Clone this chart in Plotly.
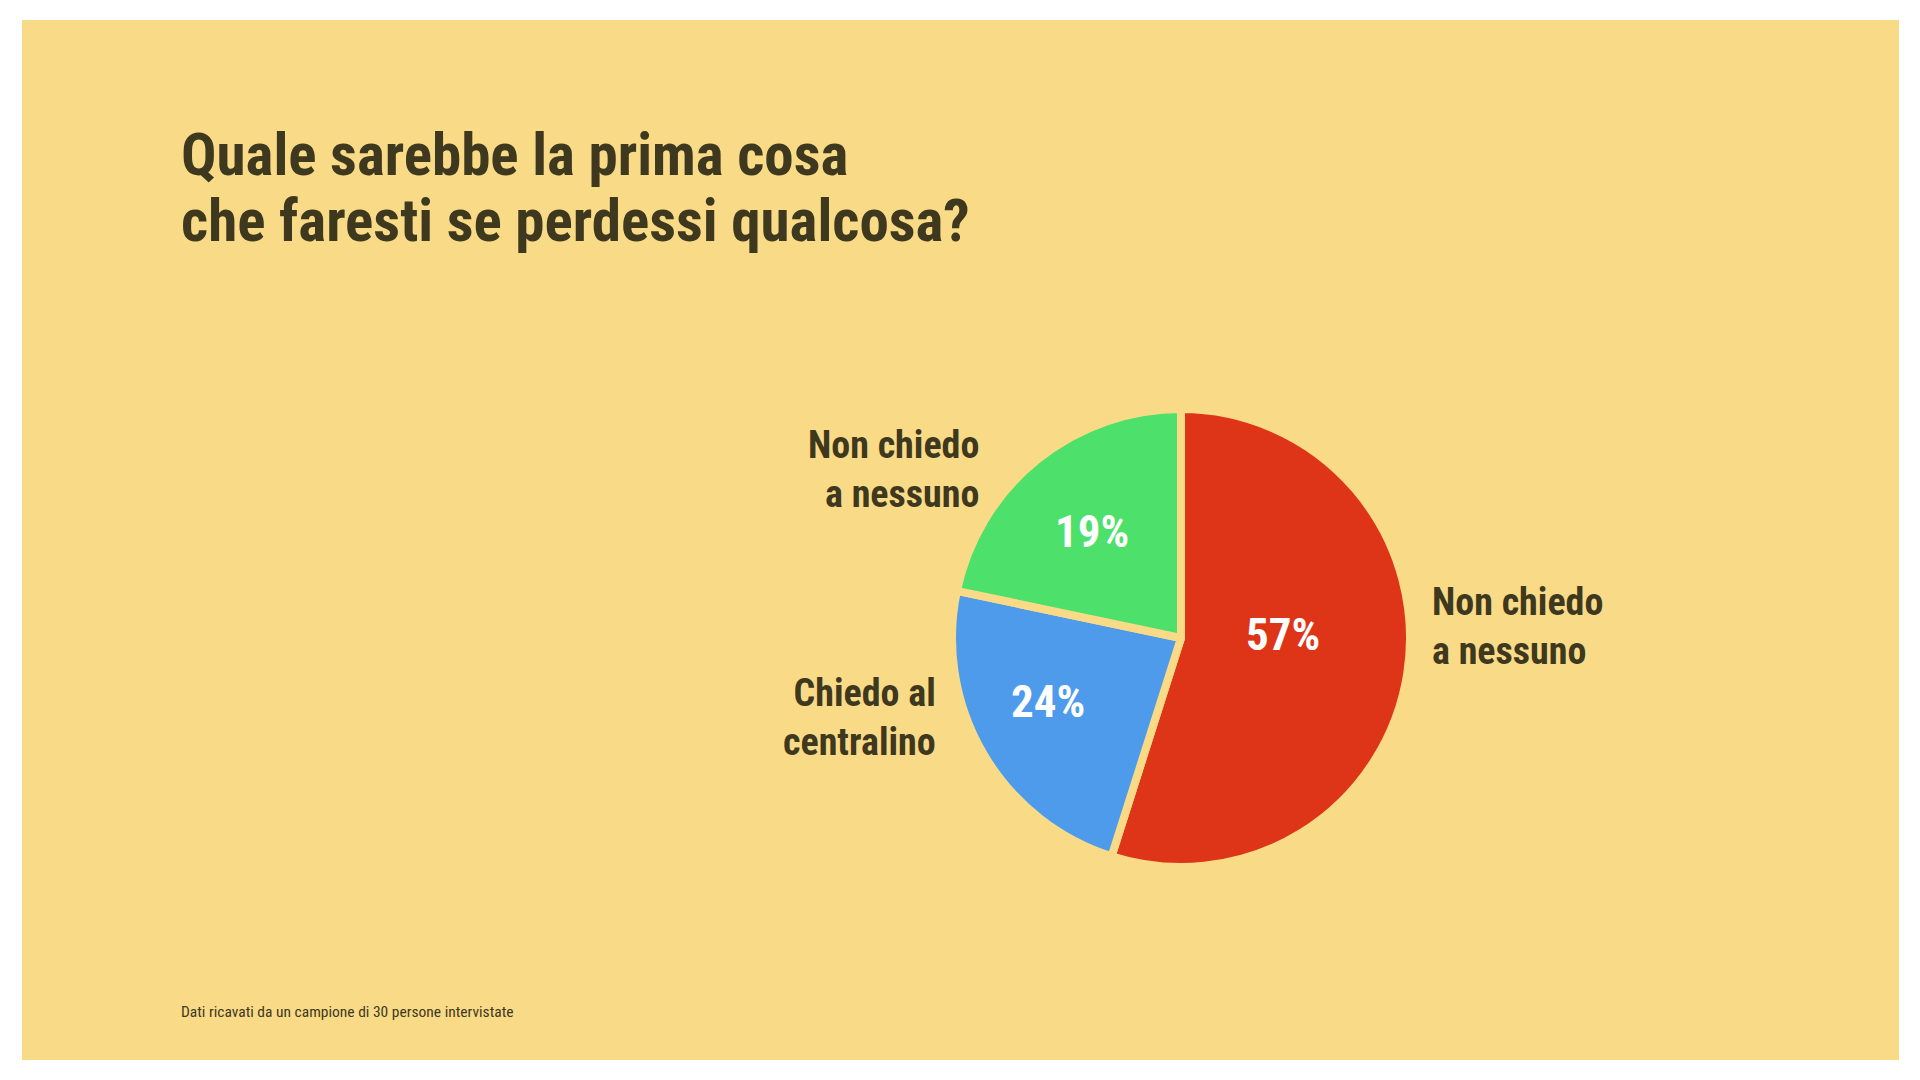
import plotly.graph_objects as go

# ---- data ----
categories = ["Non chiedo a nessuno", "Chiedo al centralino", "Non chiedo a nessuno (2)"]
label_lines = [["Non chiedo", "a nessuno"], ["Chiedo al", "centralino"], ["Non chiedo", "a nessuno"]]
slice_shares = [54.9, 23.4, 21.7]          # slice sizes as drawn
pct_labels = ["57%", "24%", "19%"]          # printed percentages
title_lines = ["Quale sarebbe la prima cosa", "che faresti se perdessi qualcosa?"]
footnote = "Dati ricavati da un campione di 30 persone intervistate"

BG = "#F9DB87"
INK = "#3E381E"
COLORS = ["#DE3417", "#4F9BEB", "#4DE06A"]
FONT = "Roboto Condensed, Liberation Sans Narrow, Arial Narrow, Liberation Sans, sans-serif"

W, H = 1920, 1080
def px(x):
    return x / W
def py(y):
    return 1 - y / H

cx, cy, r = 1181, 638, 229

fig = go.Figure()
fig.add_trace(go.Pie(
    labels=categories,
    values=slice_shares,
    text=pct_labels,
    textinfo="none",
    marker=dict(colors=COLORS, line=dict(color=BG, width=8)),
    sort=False,
    direction="clockwise",
    rotation=0,
    showlegend=False,
    hoverinfo="label+text",
    domain=dict(x=[px(cx - r), px(cx + r)], y=[py(cy + r), py(cy - r)]),
))

annotations = []
# title
for i, line in enumerate(title_lines):
    annotations.append(dict(text=line, x=px(179), y=py([155, 220][i]), xanchor="left", yanchor="middle",
                            font=dict(family=FONT, size=59, color=INK, weight="bold")))
# outside labels (two-line, centred on the pair's middle)
label_pos = [  # (x, anchor, middle y of the two-line block)
    (1430, "left", 626),
    (938, "right", 717),
    (981, "right", 470),
]
for lines, (x, anc, y) in zip(label_lines, label_pos):
    annotations.append(dict(text="<br>".join(lines), x=px(x), y=py(y), xanchor=anc, yanchor="middle",
                            align=anc, font=dict(family=FONT, size=38, color=INK, weight="bold")))
# percentages inside the slices
pct_pos = [(1283, 634), (1048, 701), (1092, 531)]
for t, (x, y) in zip(pct_labels, pct_pos):
    annotations.append(dict(text=t, x=px(x), y=py(y), xanchor="center", yanchor="middle",
                            font=dict(family=FONT, size=45, color="white", weight="bold")))
# footnote
annotations.append(dict(text=footnote, x=px(179), y=py(1012), xanchor="left", yanchor="middle",
                        font=dict(family=FONT, size=15.5, color=INK)))
for a in annotations:
    a.update(xref="paper", yref="paper", showarrow=False)

fig.update_layout(
    width=W, height=H,
    margin=dict(l=0, r=0, t=0, b=0),
    paper_bgcolor="white",
    plot_bgcolor="white",
    annotations=annotations,
    shapes=[dict(type="rect", xref="paper", yref="paper", x0=px(22), x1=px(1899), y0=py(1060), y1=py(20),
                 fillcolor=BG, line=dict(width=0), layer="below")],
)

fig.write_html("out.html")
